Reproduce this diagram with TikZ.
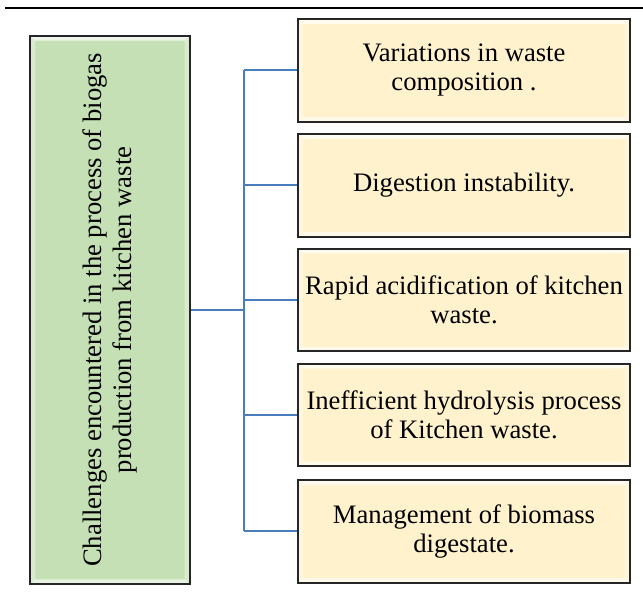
\documentclass[tikz,border=0pt]{standalone}
\usepackage{fontspec}
\setmainfont{Liberation Serif}
\usetikzlibrary{calc}

\definecolor{leafgreen}{HTML}{C5E0B4}
\definecolor{paleyellow}{HTML}{FFF2CC}
\definecolor{linkblue}{HTML}{4A7EBB}
\definecolor{edgegray}{HTML}{262626}

\begin{document}
\begin{tikzpicture}[x=0.75pt,y=-0.75pt,
    bevel/.style={path picture={
      \fill[white,opacity=0.7] (path picture bounding box.north west) -- (path picture bounding box.north east)
        -- ([shift={(-4pt,-3.5pt)}]path picture bounding box.north east) -- ([shift={(4pt,-3.5pt)}]path picture bounding box.north west) -- cycle;
      \fill[white,opacity=0.6] (path picture bounding box.south west) -- (path picture bounding box.south east)
        -- ([shift={(-4pt,3.5pt)}]path picture bounding box.south east) -- ([shift={(4pt,3.5pt)}]path picture bounding box.south west) -- cycle;
      \fill[white,opacity=0.35] (path picture bounding box.north west) -- ([shift={(4pt,-3.5pt)}]path picture bounding box.north west)
        -- ([shift={(4pt,3.5pt)}]path picture bounding box.south west) -- (path picture bounding box.south west) -- cycle;
      \fill[white,opacity=0.35] (path picture bounding box.north east) -- ([shift={(-4pt,-3.5pt)}]path picture bounding box.north east)
        -- ([shift={(-4pt,3.5pt)}]path picture bounding box.south east) -- (path picture bounding box.south east) -- cycle;}},
    challenge/.style={draw=edgegray,line width=1.3pt,fill=paleyellow,bevel,
      minimum width=249pt,minimum height=77pt,inner sep=0pt,align=center,
      font=\fontsize{20}{21.75}\selectfont},
    link/.style={draw=linkblue,line width=1.5pt}]
  \useasboundingbox (0,0) rectangle (643,605);
  \draw[line width=2.2pt] (5,8) -- (643,8);
  \node[draw=edgegray,line width=1.3pt,fill=leafgreen,bevel,minimum width=120pt,minimum height=411pt,inner sep=0pt,
    font=\fontsize{20}{22.5}\selectfont] (challengebox) at (110,310)
    {\rotatebox{90}{\begin{tabular}{c}
      Challenges encountered in the process of biogas\\
      production from kitchen waste
    \end{tabular}}};
  \node[challenge] (variation) at (464,70.5) {Variations in waste\\composition .};
  \node[challenge] (instability) at (464,185.5) {Digestion instability.};
  \node[challenge] (acidification) at (464,300) {Rapid acidification of kitchen\\waste.};
  \node[challenge] (hydrolysis) at (464,415) {Inefficient hydrolysis process\\of Kitchen waste.};
  \node[challenge] (management) at (464,531.5) {Management of biomass\\digestate.};
  \coordinate (hub) at (244,310);
  \draw[link] (challengebox.east) -- (hub);
  \draw[link] (hub |- variation.west) -- (hub |- management.west);
  \foreach \b in {variation,instability,acidification,hydrolysis,management}
    \draw[link] (hub |- \b.west) -- (\b.west);
\end{tikzpicture}
\end{document}
